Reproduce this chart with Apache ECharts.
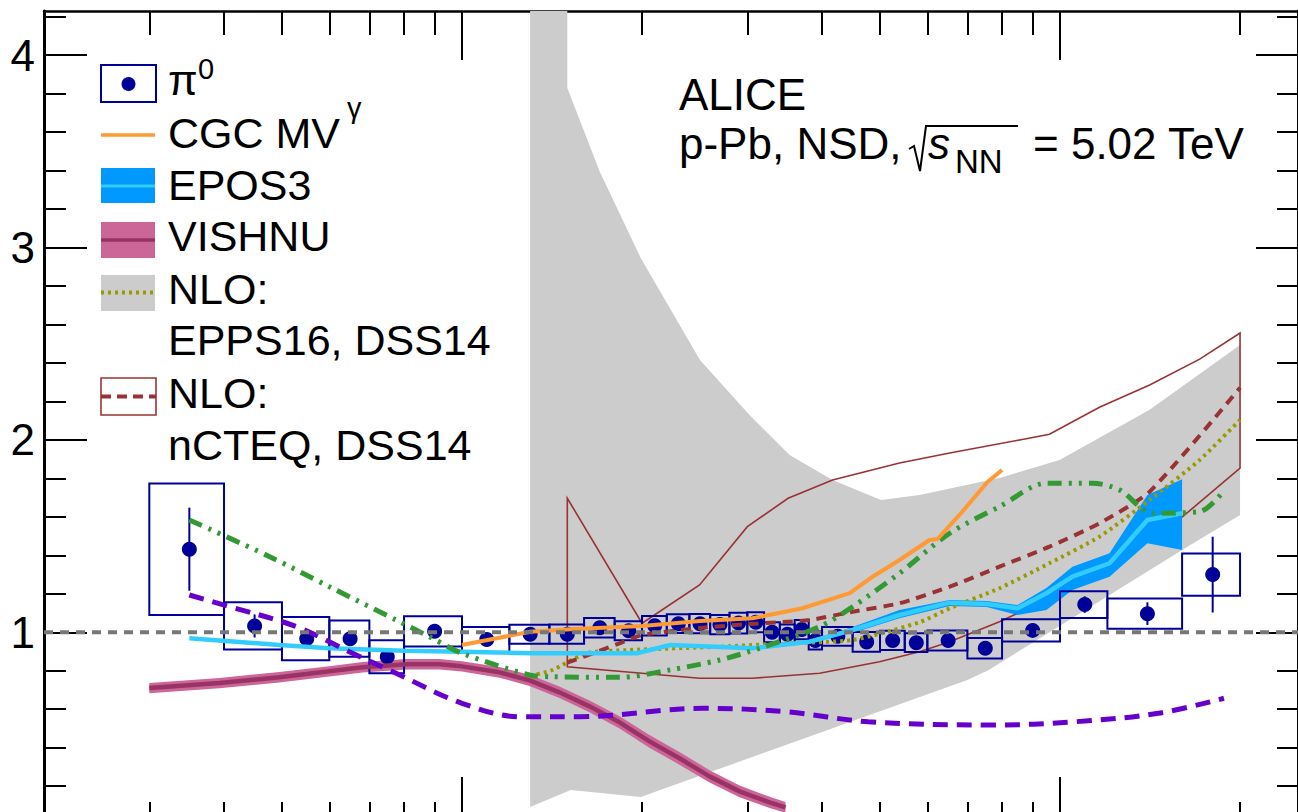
<!DOCTYPE html>
<html>
<head>
<meta charset="utf-8">
<script src="https://cdn.jsdelivr.net/npm/echarts@6/dist/echarts.min.js"></script>
<style>
html,body{margin:0;padding:0;background:#fff;}
#chart{width:1298px;height:812px;}
</style>
</head>
<body>
<div id="chart"></div>
<script>
// ---------------- data ----------------
const binEdges = [0.3,0.4,0.5,0.6,0.7,0.8,1.0,1.2,1.4,1.6,1.8,2.0,2.2,2.4,2.6,2.8,3.0,3.2,3.4,3.6,3.8,4.0,4.5,5.0,5.5,6.0,7.0,8.0,10,12,16,20];
const pi0Pt   = [0.35,0.45,0.55,0.65,0.75,0.9,1.1,1.3,1.5,1.7,1.9,2.1,2.3,2.5,2.7,2.9,3.1,3.3,3.5,3.7,3.9,4.25,4.75,5.25,5.75,6.5,7.5,9,11,14,18];
const pi0Val  = [1.432,1.033,0.967,0.967,0.873,1.005,0.962,0.990,0.990,1.024,1.008,1.034,1.045,1.045,1.040,1.048,1.052,1.000,0.990,1.014,0.958,0.979,0.950,0.958,0.946,0.958,0.917,1.010,1.144,1.097,1.300];
const pi0Stat = [0.216,0.060,0.025,0.022,0.020,0.018,0.016,0.015,0.015,0.015,0.016,0.016,0.017,0.017,0.018,0.018,0.019,0.019,0.020,0.020,0.021,0.018,0.020,0.022,0.024,0.022,0.026,0.025,0.043,0.059,0.197];
const pi0Sys  = [0.342,0.123,0.112,0.094,0.086,0.079,0.066,0.049,0.050,0.051,0.049,0.051,0.049,0.050,0.050,0.054,0.052,0.052,0.050,0.050,0.047,0.049,0.051,0.050,0.049,0.052,0.053,0.058,0.069,0.079,0.110];

const cgc = [[1.0,0.934],[1.30,1.003],[1.54,1.017],[2.0,1.033],[2.5,1.059],[3.06,1.073],[3.71,1.125],[4.45,1.204],[4.86,1.289],[5.39,1.376],[6.05,1.480],[6.24,1.485],[6.79,1.610],[7.57,1.783],[8.0,1.844]];

const epos3Line  = [[0.35,0.969],[0.495,0.934],[0.60,0.917],[0.80,0.904],[1.0,0.899],[1.30,0.891],[1.96,0.891],[2.23,0.934],[3.06,0.917],[3.81,0.951],[4.5,1.012],[5.39,1.090],[6.54,1.154],[7.54,1.147],[8.49,1.125],[9.49,1.203],[10.49,1.289],[12.1,1.359],[14.0,1.584],[16.0,1.619]];
const epos3Upper = [[3.81,0.957],[4.5,1.028],[5.39,1.116],[6.54,1.168],[7.54,1.163],[8.49,1.142],[9.49,1.230],[10.49,1.341],[12.1,1.411],[14.0,1.714],[16.0,1.796]];
const epos3Lower = [[3.81,0.945],[4.5,0.996],[5.39,1.073],[6.54,1.137],[7.54,1.131],[8.49,1.090],[9.49,1.116],[10.49,1.220],[12.1,1.289],[14.0,1.463],[16.0,1.428]];

const vishnuLine  = [[0.300,0.710],[0.393,0.736],[0.495,0.766],[0.600,0.797],[0.682,0.818],[0.808,0.834],[0.917,0.834],[1.0,0.823],[1.155,0.792],[1.297,0.750],[1.455,0.688],[1.634,0.615],[1.834,0.532],[2.058,0.433],[2.310,0.345],[2.594,0.251],[2.911,0.173],[3.268,0.116],[3.475,0.090]];
const vishnuUpper = [[0.300,0.737],[0.393,0.763],[0.495,0.793],[0.600,0.824],[0.682,0.845],[0.808,0.861],[0.917,0.861],[1.0,0.850],[1.155,0.820],[1.297,0.779],[1.455,0.718],[1.634,0.646],[1.834,0.564],[2.058,0.466],[2.310,0.378],[2.594,0.283],[2.911,0.204],[3.268,0.145],[3.475,0.118]];
const vishnuLower = [[0.300,0.683],[0.393,0.709],[0.495,0.739],[0.600,0.770],[0.682,0.791],[0.808,0.807],[0.917,0.807],[1.0,0.796],[1.155,0.764],[1.297,0.721],[1.455,0.658],[1.634,0.584],[1.834,0.500],[2.058,0.400],[2.310,0.312],[2.594,0.219],[2.911,0.142],[3.268,0.087],[3.475,0.062]];

const eppsUpper = [[1.3,4.23],[1.5,4.23],[1.5,3.83],[1.70,3.394],[1.99,2.946],[2.5,2.416],[3.025,2.130],[3.53,1.922],[4.165,1.792],[5.02,1.688],[5.82,1.714],[7.92,1.802],[9.98,1.896],[14.1,2.156],[20,2.494]];
const eppsLower = [[1.3,0.092],[1.52,0.180],[1.99,0.144],[7.0,0.752],[7.6,0.804],[16.0,1.428],[20,1.610]];
const eppsCentral = [[1.3,0.773],[1.417,0.804],[1.615,0.892],[1.906,0.908],[2.696,0.925],[3.49,0.943],[4.5,0.960],[5.82,1.052],[6.54,1.125],[7.92,1.229],[9.6,1.359],[11.64,1.497],[14.12,1.688],[17.12,1.896],[20,2.104]];

const ncteqUpper = [[1.5,1.697],[2.0,1.047],[2.496,1.246],[3.0,1.549],[3.51,1.697],[4.165,1.792],[5.39,1.880],[6.54,1.932],[8.56,2.000],[9.6,2.030],[11.64,2.170],[14.12,2.286],[17.12,2.420],[20,2.556]];
const ncteqLower = [[1.5,0.821],[2.496,0.761],[3.06,0.761],[3.962,0.787],[4.99,0.847],[5.82,0.899],[6.54,0.951],[7.92,1.055],[9.6,1.177],[11.64,1.333],[14.12,1.480],[16.03,1.601],[20,1.853]];
const ncteqCentral = [[1.5,0.842],[1.834,0.943],[2.0,0.986],[2.496,1.022],[3.025,1.043],[3.812,1.064],[4.5,1.107],[5.39,1.151],[6.54,1.237],[7.92,1.341],[9.6,1.445],[11.64,1.567],[14.12,1.731],[20,2.271]];

const greenCurve = [[0.35,1.584],[0.477,1.393],[0.60,1.237],[0.776,1.064],[0.882,0.977],[1.0,0.891],[1.297,0.778],[1.417,0.769],[1.834,0.766],[2.223,0.804],[2.696,0.856],[3.144,0.917],[3.962,1.029],[4.5,1.133],[5.39,1.307],[6.54,1.515],[7.92,1.653],[9.49,1.775],[11.33,1.775],[12.58,1.740],[14.28,1.619],[17.12,1.627],[18.84,1.740]];
const purpleCurve = [[0.35,1.194],[0.409,1.133],[0.529,1.029],[0.648,0.899],[0.776,0.787],[1.0,0.631],[1.255,0.561],[1.569,0.561],[2.53,0.605],[3.48,0.587],[4.78,0.535],[7.71,0.518],[10.6,0.535],[14.6,0.579],[18.8,0.657]];

const unityLine = [[0.2,1],[25,1]];

const xMinorTicks = [0.3,0.4,0.5,0.6,0.7,0.8,0.9,2,3,4,5,6,7,8,9,20];
const xMajorTicks = [1,10];
const yMinorTicks = [0.2,0.4,0.6,0.8,1.2,1.4,1.6,1.8,2.2,2.4,2.6,2.8,3.2,3.4,3.6,3.8,4.2];
const yMajorTicks = [1,2,3,4];
const yTickLabels = [1,2,3,4];

// ---------------- chart ----------------
const FONT = '"Liberation Sans", Arial, Helvetica, sans-serif';
const chart = echarts.init(document.getElementById('chart'), null, {renderer:'svg', width:1298, height:812});

const Y_MIN = 0.0658, Y_MAX = 4.23;

function xAx(pos, ticks, len, showLine){
  return {type:'log', logBase:10, min:0.2, max:25, position:pos,
    axisLine:{show:showLine, onZero:false, lineStyle:{color:'#000', width:2.5}},
    axisTick:{show:true, inside:true, length:len, customValues:ticks, lineStyle:{color:'#000', width:2}},
    axisLabel:{show:false}, splitLine:{show:false}, minorTick:{show:false}};
}
function yAx(pos, ticks, len, showLine, labels){
  return {type:'value', min:Y_MIN, max:Y_MAX, position:pos,
    axisLine:{show:showLine, onZero:false, lineStyle:{color:'#000', width:3}},
    axisTick:{show:true, inside:true, length:len, customValues:ticks, lineStyle:{color:'#000', width:2}},
    axisLabel: labels ? {show:true, customValues:labels, color:'#000', fontSize:44, fontFamily:FONT, margin:9} : {show:false},
    splitLine:{show:false}, minorTick:{show:false}};
}
function polygonSeries(upper, lower, style){
  return {type:'custom', silent:true, data:[[1,1]],
    renderItem:function(params, api){
      const pts = upper.map(p=>api.coord(p)).concat(lower.slice().reverse().map(p=>api.coord(p)));
      return {type:'polygon', shape:{points:pts}, style:style};
    }};
}
function lineSeries(data, color, width, type, smooth){
  return {type:'line', data:data, symbol:'none', silent:true, smooth:smooth||false,
    lineStyle:{color:color, width:width, type:type||'solid', cap:'butt'}};
}

const boxData = pi0Pt.map((p,i)=>[binEdges[i], binEdges[i+1], pi0Val[i], pi0Sys[i]]);
const errData = pi0Pt.map((p,i)=>[p, pi0Val[i], pi0Stat[i]]);
const ptData  = pi0Pt.map((p,i)=>[p, pi0Val[i]]);

const NAVY = '#000099';
const T = (text, x, y, size, extra) => Object.assign({type:'text', silent:true,
  style:Object.assign({text:text, x:x, y:y, fill:'#000', font: size+'px '+FONT, verticalAlign:'middle', align:'left'}, extra||{})});

const option = {
  animation:false,
  backgroundColor:'#fff',
  grid:{left:44, top:11, right:0, bottom:0, containLabel:false},
  xAxis:[xAx('bottom', xMinorTicks, 10, false), xAx('bottom', xMajorTicks, 35, false),
         xAx('top', xMinorTicks, 24, true), xAx('top', xMajorTicks, 49, false)],
  yAxis:[yAx('left', yMinorTicks, 22, true, yTickLabels), yAx('left', yMajorTicks, 43, false, null),
         yAx('right', yMinorTicks, 21, true, null), yAx('right', yMajorTicks, 42, false, null)],
  series:[
    polygonSeries(eppsUpper, eppsLower, {fill:'#cccccc'}),
    polygonSeries(ncteqUpper, ncteqLower, {fill:'none', stroke:'#993333', lineWidth:1.6}),
    lineSeries(eppsCentral, '#999900', 4, [3,4], 0.2),
    lineSeries(ncteqCentral, '#993333', 4, [10,7], 0.2),
    polygonSeries(epos3Upper, epos3Lower, {fill:'#0099ff'}),
    lineSeries(epos3Line, '#33ccff', 4.5),
    polygonSeries(vishnuUpper, vishnuLower, {fill:'#cc6699'}),
    lineSeries(vishnuLine, '#993366', 4.5),
    lineSeries(greenCurve, '#339933', 5, [14,7,3,7,3,7], 0.3),
    lineSeries(cgc, '#ff9933', 4),
    lineSeries(purpleCurve, '#6600cc', 5, [15,9], 0.35),
    lineSeries(unityLine, '#777777', 4, [9,7]),
    {type:'custom', silent:true, data:boxData, encode:{x:[0,1], y:2},
      renderItem:function(params, api){
        const a = api.coord([api.value(0), api.value(2)+api.value(3)]);
        const b = api.coord([api.value(1), api.value(2)-api.value(3)]);
        return {type:'rect', shape:{x:a[0], y:a[1], width:b[0]-a[0], height:b[1]-a[1]},
          style:{fill:'none', stroke:NAVY, lineWidth:2}};
      }},
    {type:'custom', silent:true, data:errData, encode:{x:0, y:1},
      renderItem:function(params, api){
        const a = api.coord([api.value(0), api.value(1)+api.value(2)]);
        const b = api.coord([api.value(0), api.value(1)-api.value(2)]);
        return {type:'line', shape:{x1:a[0], y1:a[1], x2:b[0], y2:b[1]}, style:{stroke:NAVY, lineWidth:2}};
      }},
    {type:'scatter', silent:true, data:ptData, symbol:'circle', symbolSize:15, itemStyle:{color:NAVY, opacity:1}}
  ],
  graphic:[
    // legend symbols
    {type:'rect', silent:true, shape:{x:101, y:65, width:55, height:37}, style:{fill:'none', stroke:NAVY, lineWidth:2}},
    {type:'circle', silent:true, shape:{cx:128.5, cy:84, r:7}, style:{fill:NAVY}},
    {type:'line', silent:true, shape:{x1:101, y1:135, x2:155, y2:135}, style:{stroke:'#ff9933', lineWidth:3.5}},
    {type:'rect', silent:true, shape:{x:101, y:168, width:54, height:35}, style:{fill:'#0099ff'}},
    {type:'line', silent:true, shape:{x1:101, y1:186, x2:155, y2:186}, style:{stroke:'#33ccff', lineWidth:3}},
    {type:'rect', silent:true, shape:{x:101, y:222, width:54, height:36}, style:{fill:'#cc6699'}},
    {type:'line', silent:true, shape:{x1:101, y1:240, x2:155, y2:240}, style:{stroke:'#993366', lineWidth:3.5}},
    {type:'rect', silent:true, shape:{x:101, y:275, width:54, height:36}, style:{fill:'#cccccc'}},
    {type:'line', silent:true, shape:{x1:101, y1:292.5, x2:155, y2:292.5}, style:{stroke:'#999900', lineWidth:4, lineDash:[3,4]}},
    {type:'rect', silent:true, shape:{x:101, y:378, width:55, height:37}, style:{fill:'none', stroke:'#993333', lineWidth:1.6}},
    {type:'line', silent:true, shape:{x1:101, y1:396.5, x2:156, y2:396.5}, style:{stroke:'#993333', lineWidth:4, lineDash:[10,6]}},
    // legend text
    T('π', 168, 80, 43),
    T('0', 198, 69, 29),
    T('CGC MV', 168, 133, 43),
    T('γ', 347, 108, 29),
    T('EPOS3', 168, 185, 43),
    T('VISHNU', 168, 236, 43),
    T('NLO:', 168, 289, 43),
    T('EPPS16, DSS14', 168, 340, 43),
    T('NLO:', 168, 393, 43),
    T('nCTEQ, DSS14', 168, 445, 43),
    // header
    T('ALICE', 679, 94, 44),
    T('p-Pb, NSD,', 679, 143, 44),
    {type:'polyline', silent:true, shape:{points:[[909,149],[914,146],[920,171],[926,126],[1018,126]]}, style:{fill:'none', stroke:'#000', lineWidth:2}},
    T('s', 928, 143, 44, {font:'italic 44px '+FONT}),
    T('NN', 955, 161, 33),
    T('= 5.02 TeV', 1033, 143, 44)
  ]
};
chart.setOption(option);
</script>
</body>
</html>
